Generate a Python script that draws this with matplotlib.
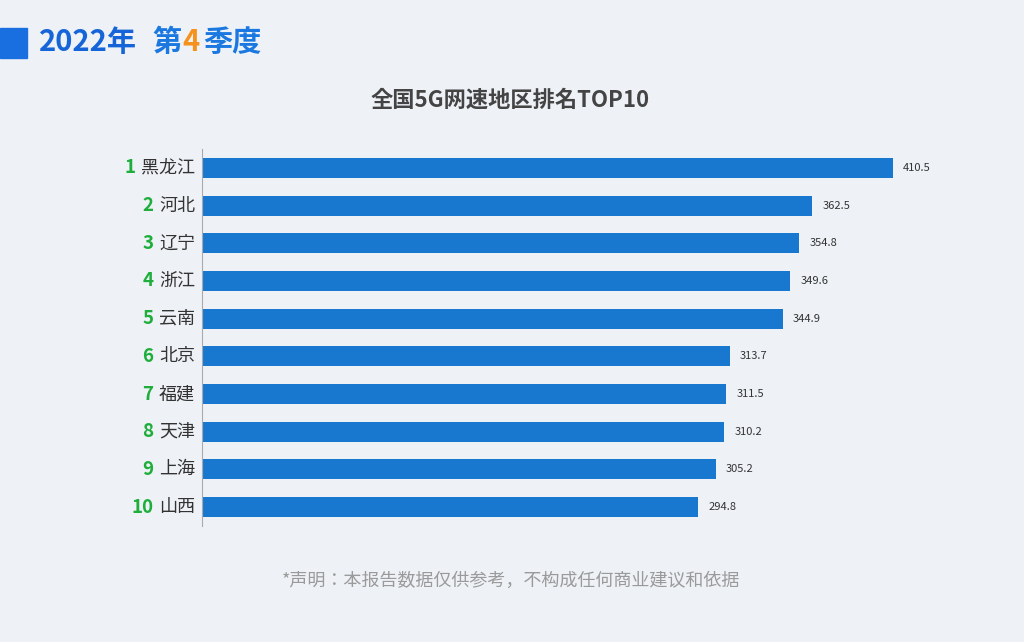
import matplotlib
matplotlib.use("Agg")
import matplotlib.pyplot as plt
from matplotlib.patches import Rectangle

plt.rcParams["font.family"] = ["Noto Sans CJK SC", "Noto Sans CJK JP", "Noto Sans CJK TC", "DejaVu Sans"]

ranks = ["1", "2", "3", "4", "5", "6", "7", "8", "9", "10"]
regions = ["黑龙江", "河北", "辽宁", "浙江", "云南", "北京", "福建", "天津", "上海", "山西"]
speeds = [410.5, 362.5, 354.8, 349.6, 344.9, 313.7, 311.5, 310.2, 305.2, 294.8]

W, H = 1024, 642
bg = "#eef2f7"
fig = plt.figure(figsize=(W / 100, H / 100), dpi=100, facecolor=bg)

fig.patches.append(Rectangle((0, 1 - 58 / H), 27 / W, 30 / H, transform=fig.transFigure,
                             color="#1a6fe0", zorder=1))
fig.text(39 / W, 1 - 42 / H, "2022年", fontsize=21, fontweight="bold", color="#1565d8", va="center")
fig.text(152 / W, 1 - 42 / H, "第", fontsize=21, fontweight="bold", color="#1a78e0", va="center")
fig.text(182 / W, 1 - 42 / H, "4", fontsize=21, fontweight="bold", color="#f5921e", va="center")
fig.text(203 / W, 1 - 42 / H, "季度", fontsize=21, fontweight="bold", color="#1a78e0", va="center")

fig.text(510 / W, 1 - 100 / H, "全国5G网速地区排名TOP10", fontsize=16, fontweight="bold",
         color="#444444", ha="center", va="center")

x0, x1 = 202, 1000
scale = 691 / 410.5
top, bot = 149, 526
ax = fig.add_axes([x0 / W, 1 - bot / H, (x1 - x0) / W, (bot - top) / H])
ax.set_facecolor("none")
y = list(range(len(speeds)))
ax.barh(y, speeds, height=0.53, color="#1878d0")
ax.set_xlim(0, (x1 - x0) / scale)
ax.set_ylim(len(speeds) - 0.5, -0.5)
for i, v in enumerate(speeds):
    ax.text(v + 6, i, f"{v}", fontsize=8, color="#333333", va="center")
    yy = 1 - (top + (i + 0.5) * (bot - top) / len(speeds)) / H
    fig.text(195 / W, yy, regions[i], fontsize=13, color="#333333", ha="right", va="center")
    rx = 195 - 17.7 * len(regions[i]) - 6
    fig.text(rx / W, yy, ranks[i], fontsize=13.5, fontweight="bold", color="#1fae3c", ha="right", va="center")
ax.set_xticks([])
ax.set_yticks([])
for s in ["top", "right", "bottom"]:
    ax.spines[s].set_visible(False)
ax.spines["left"].set_color("#aaaaaa")

fig.text(511 / W, 1 - 581 / H, "*声明：本报告数据仅供参考，不构成任何商业建议和依据", fontsize=13,
         color="#9a9a9a", ha="center", va="center")

fig.savefig("out.png", dpi=100, facecolor=bg)
